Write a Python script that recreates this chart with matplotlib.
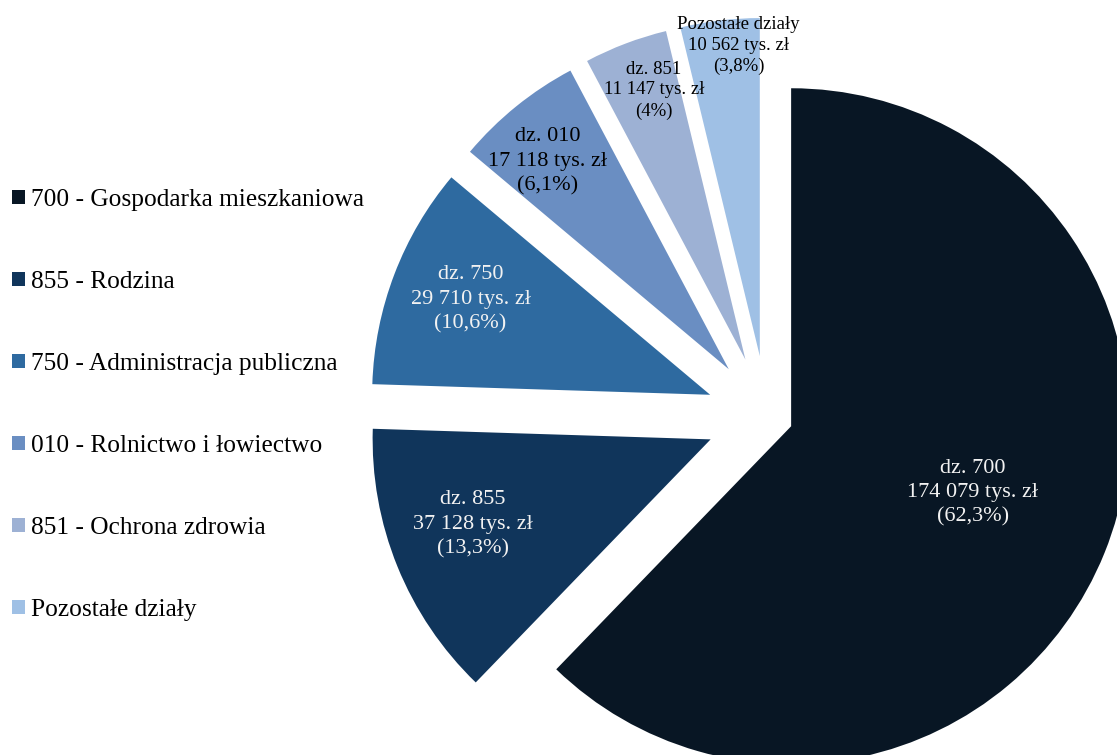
import numpy as np
import matplotlib
matplotlib.use("Agg")
import matplotlib.pyplot as plt

# ─── Data ──────────────────────────────────────────────────────────────────
codes = ["700", "855", "750", "010", "851", None]
legend_labels = [
    "700 - Gospodarka mieszkaniowa",
    "855 - Rodzina",
    "750 - Administracja publiczna",
    "010 - Rolnictwo i łowiectwo",
    "851 - Ochrona zdrowia",
    "Pozostałe działy",
]
values = [174079, 37128, 29710, 17118, 11147, 10562]
shares = ["62,3%", "13,3%", "10,6%", "6,1%", "4%", "3,8%"]

# ─── Style ─────────────────────────────────────────────────────────────────
COLORS = ["#081624", "#10355B", "#2E6AA0", "#6A8EC2", "#9DB1D4", "#9FC0E5"]
TEXT_COLORS = ["#F2F2F2", "#F2F2F2", "#F2F2F2", "#000000", "#000000", "#000000"]
R = 338
EXPLODE = [0.077, 0.18, 0.18, 0.18, 0.18, 0.18]   # fraction of radius
LABEL_DIST = [0.573, 0.746, 0.763, 0.816, 0.842, 0.92]
LABEL_TURN = [1.9, -2.4, -0.8, 2.1, -2.0, -2.9]     # degrees off the mid-angle
LABEL_SIZE = [16, 16, 16, 16, 13.5, 13.5]
LABEL_SPACING = [1.38, 1.38, 1.38, 1.38, 1.3, 1.3]

plt.rcParams["font.family"] = ["Liberation Serif", "DejaVu Serif"]

W, H = 1117, 755
fig = plt.figure(figsize=(W / 100, H / 100), dpi=100)
ax = fig.add_axes([0, 0, 1, 1])

wedges, _ = ax.pie(values, colors=COLORS, explode=[e * R for e in EXPLODE],
                   startangle=90, counterclock=False, radius=R,
                   center=(767, 338.5), wedgeprops=dict(linewidth=0))
ax.set_xlim(0, W)
ax.set_ylim(0, H)
ax.set_aspect("equal")
ax.axis("off")

# data labels inside the slices
for i, w in enumerate(wedges):
    mid = np.deg2rad((w.theta1 + w.theta2) / 2 + LABEL_TURN[i])
    cx, cy = w.center
    x = cx + LABEL_DIST[i] * w.r * np.cos(mid)
    y = cy + LABEL_DIST[i] * w.r * np.sin(mid)
    head = f"dz. {codes[i]}" if codes[i] else "Pozostałe działy"
    amount = f"{values[i]:,}".replace(",", " ")
    ax.text(x, y, f"{head}\n{amount} tys. zł\n({shares[i]})", ha="center",
            va="center", multialignment="center", fontsize=LABEL_SIZE[i],
            color=TEXT_COLORS[i], linespacing=LABEL_SPACING[i])

fig.legend(wedges, legend_labels, loc="center left",
           bbox_to_anchor=(12 / W, 1 - 405 / H), frameon=False, fontsize=18.3,
           handlelength=0.52, handleheight=0.52, handletextpad=0.24,
           labelspacing=2.36, borderpad=0, borderaxespad=0)

fig.savefig("out.png", dpi=100, facecolor="white")
